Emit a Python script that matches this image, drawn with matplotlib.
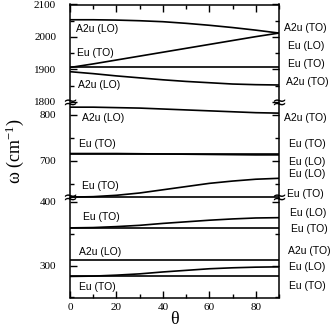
import matplotlib
matplotlib.use("Agg")
import matplotlib.pyplot as plt
from matplotlib.ticker import MultipleLocator

plt.rcParams["mathtext.fontset"] = "custom"
plt.rcParams["mathtext.rm"] = "Liberation Serif"
plt.rcParams["mathtext.it"] = "Liberation Serif:italic"
plt.rcParams["mathtext.bf"] = "Liberation Serif:bold"

# ---- data (frequency in cm^-1 vs angle theta in degrees) ----
theta = [0, 10, 20, 30, 40, 50, 60, 70, 80, 90]

# upper block (1800-2100)
hi_a2u_lo = [2053, 2053, 2052, 2050, 2047, 2042, 2036, 2029, 2021, 2012]
hi_eu_rise = [1906, 1917, 1929, 1941, 1953, 1965, 1977, 1989, 2001, 2012]
hi_eu_flat = [1906, 1906, 1906, 1906, 1906, 1906, 1906, 1906, 1906, 1906]
hi_a2u_dec = [1893, 1887, 1880, 1874, 1868, 1863, 1859, 1855, 1853, 1852]

# middle block (~620-825)
mid_a2u = [817, 817, 816, 815, 813, 811, 809, 807, 805, 804]
mid_eu_to = [716, 716, 716, 716, 716, 716, 716, 716, 716, 716]
mid_eu_lo = [716, 716, 716, 715.5, 715, 714.5, 714, 713.5, 713, 713]
mid_eu_flat = [621, 621, 621, 621, 621, 621, 621, 621, 621, 621]
mid_eu_rise = [621, 622, 625, 630, 637, 644, 651, 656, 660, 662]

# lower block (250-405)
lo_eu_flat1 = [359, 359, 359, 359, 359, 359, 359, 359, 359, 359]
lo_eu_rise1 = [359, 359.5, 361, 363, 366, 368.5, 371, 373, 374.5, 375]
lo_a2u_flat = [308, 308, 308, 308, 308, 308, 308, 308, 308, 308]
lo_eu_flat2 = [283, 283, 283, 283, 283, 283, 283, 283, 283, 283]
lo_eu_rise2 = [283, 283.5, 285, 287, 290, 292.5, 295, 296.5, 297.5, 298]

xticks = [0, 20, 40, 60, 80]

left_labels = [
    ("A2u (LO)", 76, 29), ("Eu (TO)", 77, 53), ("A2u (LO)", 78, 85),
    ("A2u (LO)", 82, 118), ("Eu (TO)", 79, 144), ("Eu (TO)", 82, 186),
    ("Eu (TO)", 83, 217), ("A2u (LO)", 79, 252), ("Eu (TO)", 79, 287),
]
right_labels = [
    ("A2u (TO)", 284, 28), ("Eu (LO)", 288, 46), ("Eu (TO)", 288, 64),
    ("A2u (TO)", 286, 82), ("A2u (TO)", 284, 118), ("Eu (TO)", 289, 144),
    ("Eu (LO)", 289, 162), ("Eu (LO)", 289, 174), ("Eu (TO)", 287, 194),
    ("Eu (LO)", 290, 213), ("Eu (TO)", 291, 229), ("A2u (TO)", 288, 251),
    ("Eu (LO)", 289, 267), ("Eu (TO)", 289, 286),
]

W, H = 331, 327
fig = plt.figure(figsize=(W / 100, H / 100), dpi=100)

serif = "Liberation Serif"
sans = "Liberation Sans"

x0 = 70 / W
wd = 209 / W
def fy(p):
    return 1 - p / H

ax_hi = fig.add_axes([x0, fy(103.5), wd, 99 / H])
ax_mid = fig.add_axes([x0, fy(198.5), wd, 95 / H])
ax_lo = fig.add_axes([x0, fy(297.5), wd, 99 / H])

lw = 1.2
for y in (hi_a2u_lo, hi_eu_rise, hi_eu_flat, hi_a2u_dec):
    ax_hi.plot(theta, y, color="black", lw=lw)
for y in (mid_a2u, mid_eu_to, mid_eu_lo, mid_eu_flat, mid_eu_rise):
    ax_mid.plot(theta, y, color="black", lw=lw)
for y in (lo_eu_flat1, lo_eu_rise1, lo_a2u_flat, lo_eu_flat2, lo_eu_rise2):
    ax_lo.plot(theta, y, color="black", lw=lw)

ax_hi.set_ylim(1795, 2100)
ax_mid.set_ylim(618, 825)
ax_lo.set_ylim(250, 405)

for ax in (ax_hi, ax_mid, ax_lo):
    ax.yaxis.set_major_locator(MultipleLocator(100))
    ax.yaxis.set_minor_locator(MultipleLocator(50))
    ax.set_xlim(0, 90)
    ax.xaxis.set_major_locator(MultipleLocator(20))
    ax.xaxis.set_minor_locator(MultipleLocator(10))
    ax.tick_params(axis="both", which="both", direction="in", right=True,
                   top=False, bottom=False, labelbottom=False)
    ax.tick_params(which="major", length=5, width=1.0)
    ax.tick_params(which="minor", length=3, width=1.0)
    ax.tick_params(axis="y", pad=10, labelsize=8)
    for lab in ax.get_yticklabels():
        lab.set_fontfamily(serif)
    for s in ax.spines.values():
        s.set_linewidth(1.1)
    ax.spines["top"].set_visible(False)
    ax.spines["bottom"].set_visible(False)

ax_hi.spines["top"].set_visible(True)
ax_hi.tick_params(axis="x", which="both", top=True)
ax_lo.spines["bottom"].set_visible(True)
ax_lo.tick_params(axis="x", which="both", bottom=True, labelbottom=True,
                  labelsize=8, pad=4)
ax_lo.set_xticks(xticks)
for lab in ax_lo.get_xticklabels():
    lab.set_fontfamily(serif)

# axis labels
fig.text(15 / W, fy(151), "\u03c9 (cm$^{-1}$)", rotation=90,
         ha="center", va="center", fontsize=13, family=serif)
fig.text(174.5 / W, fy(319), "\u03b8", ha="center", va="center",
         fontsize=13, family=serif)

# break marks
for yb in (103.5, 198.5):
    for xb in (70, 279):
        fig.text(xb / W, fy(yb), "\u2248", ha="center", va="center",
                 fontsize=13, family="DejaVu Sans")

for txt, px, py in left_labels:
    fig.text(px / W, fy(py), txt, ha="left", va="center", fontsize=7.5,
             family=sans)
for txt, px, py in right_labels:
    fig.text(px / W, fy(py), txt, ha="left", va="center", fontsize=7.5,
             family=sans)

fig.savefig("out.png", dpi=100)
